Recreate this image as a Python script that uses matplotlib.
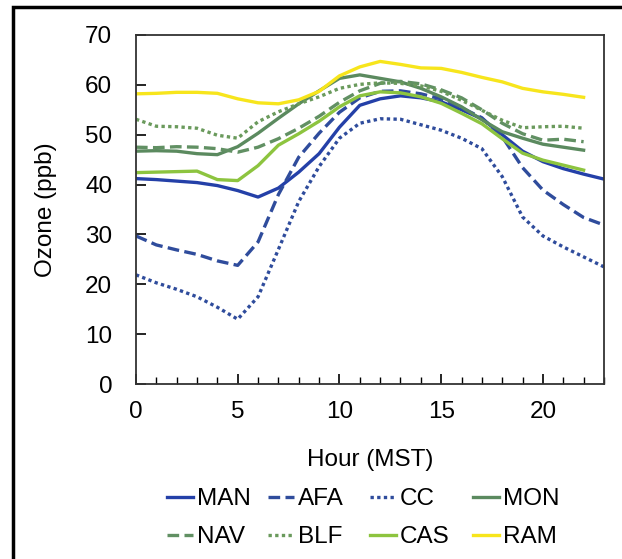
import matplotlib
matplotlib.use("Agg")
import matplotlib.pyplot as plt
from matplotlib.patches import Rectangle
from matplotlib.ticker import MultipleLocator

plt.rcParams['font.family'] = ['Liberation Sans', 'DejaVu Sans']

hours = list(range(24))
MAN = [41.2, 41.0, 40.7, 40.4, 39.8, 38.8, 37.5, 39.3, 42.5, 46.2, 51.5, 55.9, 57.2, 57.8, 57.4, 56.6, 55.0, 53.2, 50.0, 46.7, 44.6, 43.2, 42.1, 41.1]
AFA = [29.7, 27.9, 26.9, 26.0, 24.7, 23.8, 28.5, 38.0, 45.5, 50.3, 54.5, 57.4, 58.7, 58.8, 58.2, 57.2, 55.4, 53.4, 49.6, 43.4, 38.9, 36.0, 33.4, 31.9]
CC = [21.9, 20.3, 19.0, 17.5, 15.4, 13.0, 17.5, 27.0, 36.6, 43.6, 49.3, 52.3, 53.2, 53.1, 52.0, 50.9, 49.3, 47.2, 41.6, 33.5, 29.7, 27.5, 25.5, 23.5]
MON = [46.7, 46.8, 46.7, 46.2, 46.0, 47.6, 50.3, 53.3, 56.2, 58.8, 61.3, 62.0, 61.3, 60.6, 59.3, 57.6, 55.6, 53.0, 50.6, 49.3, 48.1, 47.5, 46.9]
NAV = [47.5, 47.4, 47.6, 47.5, 47.2, 46.5, 47.5, 49.2, 51.3, 53.7, 56.5, 58.8, 60.3, 60.7, 60.2, 59.0, 57.4, 55.0, 52.3, 50.2, 48.9, 49.1, 48.6]
BLF = [53.1, 51.7, 51.6, 51.3, 49.9, 49.3, 52.6, 54.6, 56.2, 57.6, 59.3, 60.1, 60.4, 60.3, 59.8, 58.7, 56.9, 54.9, 52.9, 51.4, 51.6, 51.7, 51.3]
CAS = [42.4, 42.5, 42.6, 42.7, 41.0, 40.8, 43.8, 47.9, 50.2, 52.7, 55.6, 57.8, 58.6, 58.4, 57.6, 56.3, 54.3, 52.2, 49.2, 46.3, 44.9, 43.9, 42.9]
RAM = [58.2, 58.3, 58.5, 58.5, 58.3, 57.2, 56.4, 56.2, 57.0, 58.7, 61.8, 63.6, 64.7, 64.1, 63.4, 63.3, 62.5, 61.5, 60.6, 59.3, 58.6, 58.1, 57.5]

series = [
    ("MAN", MAN, "#2440a8", "-"),
    ("AFA", AFA, "#2f4c9c", (0, (3.5, 1.6))),
    ("CC", CC, "#2f4c9c", (0, (1, 1))),
    ("MON", MON, "#5b8a5f", "-"),
    ("NAV", NAV, "#619063", (0, (3.5, 1.6))),
    ("BLF", BLF, "#6a9a5c", (0, (1, 1))),
    ("CAS", CAS, "#8dc43f", "-"),
    ("RAM", RAM, "#f7e51c", "-"),
]

FS = 17.5
fig = plt.figure(figsize=(6.22, 5.59), dpi=100)
ax = fig.add_axes([0.2186, 0.313, 0.7524, 0.6244])

handles = {}
for name, vals, col, ls in series:
    h, = ax.plot(hours[:len(vals)], vals, color=col, linestyle=ls, linewidth=2.4, label=name)
    handles[name] = h

ax.set_xlim(0, 23)
ax.set_ylim(0, 70)
ax.xaxis.set_major_locator(MultipleLocator(5))
ax.xaxis.set_minor_locator(MultipleLocator(1))
ax.yaxis.set_major_locator(MultipleLocator(10))
ax.tick_params(axis='both', which='major', direction='in', length=7, width=1.2, labelsize=FS)
ax.tick_params(axis='x', which='major', pad=12)
ax.tick_params(axis='y', which='major', pad=17)
ax.tick_params(axis='x', which='minor', direction='in', length=5, width=1.0)
for sp in ax.spines.values():
    sp.set_linewidth(1.3)
    sp.set_color('#333333')

ax.set_xlabel("Hour (MST)", fontsize=FS, labelpad=19)
ax.set_ylabel("Ozone (ppb)", fontsize=FS, labelpad=20)

# legend: 4 columns, 2 rows (row 1: MAN AFA CC MON, row 2: NAV BLF CAS RAM)
columns = [["MAN", "NAV"], ["AFA", "BLF"], ["CC", "CAS"], ["MON", "RAM"]]
col_x = [167, 268, 370, 473]
for names, xpx in zip(columns, col_x):
    lg = fig.legend([handles[n] for n in names], names, loc='upper left',
                    bbox_to_anchor=(xpx / 622, 1 - 488 / 559), ncol=1, frameon=False,
                    fontsize=FS, handlelength=1.07, handletextpad=0.15,
                    labelspacing=0.66, borderpad=0, borderaxespad=0)

fig.patches.append(Rectangle((13/622, -0.05), 1.0, 1 - 7/559 + 0.05, transform=fig.transFigure,
                             fill=False, edgecolor='black', linewidth=2.5, figure=fig))

fig.savefig("out.png", dpi=100)
